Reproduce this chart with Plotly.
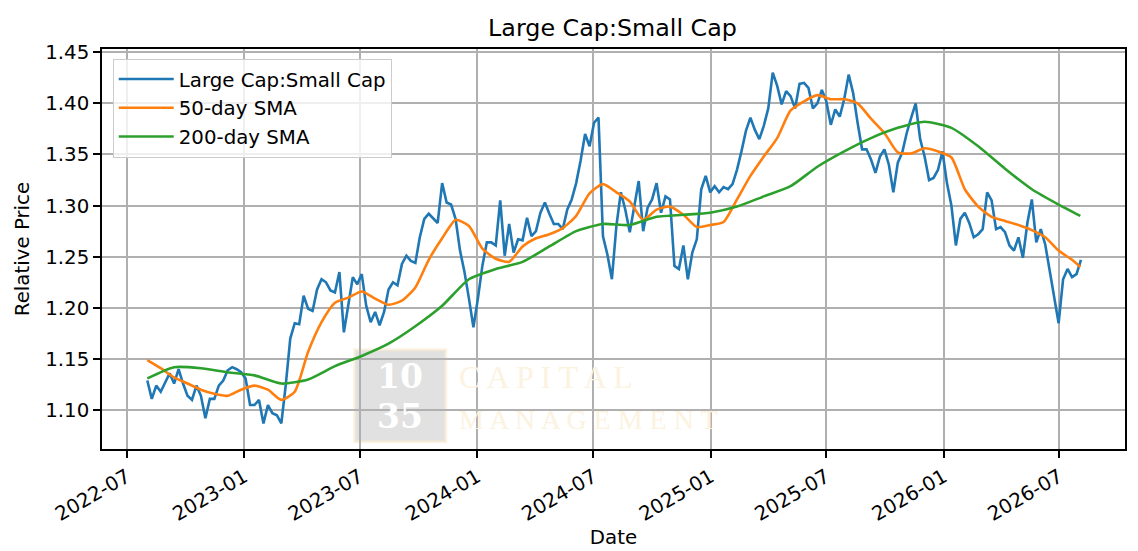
import pandas as pd
import plotly.graph_objects as go

# ---------------- data ----------------
ratio_start = "2022-08-02"   # weekly observations
ratio = [
    1.129, 1.111, 1.124, 1.118, 1.127, 1.136, 1.126, 1.140, 1.126, 1.114,
    1.110, 1.124, 1.114, 1.092, 1.111, 1.111, 1.124, 1.129, 1.139, 1.142,
    1.140, 1.137, 1.131, 1.105, 1.105, 1.110, 1.087, 1.105, 1.097, 1.095,
    1.087, 1.125, 1.170, 1.185, 1.184, 1.212, 1.199, 1.197, 1.218, 1.228,
    1.225, 1.217, 1.215, 1.235, 1.176, 1.202, 1.230, 1.223, 1.233, 1.202,
    1.186, 1.196, 1.183, 1.196, 1.218, 1.225, 1.222, 1.243, 1.251, 1.246,
    1.244, 1.269, 1.287, 1.292, 1.287, 1.283, 1.322, 1.303, 1.301, 1.287,
    1.256, 1.235, 1.209, 1.181, 1.209, 1.241, 1.264, 1.264, 1.261, 1.305,
    1.251, 1.282, 1.254, 1.267, 1.266, 1.288, 1.270, 1.275, 1.293, 1.303,
    1.292, 1.282, 1.282, 1.277, 1.296, 1.306, 1.322, 1.344, 1.370, 1.358,
    1.381, 1.386, 1.270, 1.252, 1.228, 1.280, 1.313, 1.296, 1.274, 1.300,
    1.324, 1.275, 1.298, 1.306, 1.322, 1.293, 1.309, 1.306, 1.241, 1.238,
    1.261, 1.228, 1.254, 1.267, 1.316, 1.329, 1.313, 1.319, 1.313, 1.318,
    1.316, 1.321, 1.335, 1.353, 1.373, 1.386, 1.374, 1.365, 1.378, 1.395,
    1.430, 1.417, 1.399, 1.412, 1.407, 1.395, 1.419, 1.420, 1.415, 1.395,
    1.400, 1.413, 1.402, 1.379, 1.394, 1.387, 1.404, 1.428, 1.410, 1.381,
    1.355, 1.355, 1.345, 1.332, 1.348, 1.355, 1.340, 1.313, 1.342, 1.352,
    1.371, 1.386, 1.400, 1.365, 1.348, 1.325, 1.327, 1.335, 1.353, 1.322,
    1.300, 1.261, 1.287, 1.293, 1.283, 1.269, 1.272, 1.277, 1.313, 1.305,
    1.277, 1.279, 1.274, 1.261, 1.256, 1.269, 1.249, 1.283, 1.306, 1.264,
    1.277, 1.262, 1.235, 1.212, 1.185, 1.228, 1.238, 1.230, 1.233, 1.247,
]

sma50_start = "2022-08-02"   # every 3 weeks
sma50 = [
    1.149, 1.141, 1.132, 1.126, 1.120, 1.116, 1.114, 1.120, 1.124, 1.120,
    1.110, 1.118, 1.157, 1.186, 1.205, 1.210, 1.216, 1.209, 1.203, 1.207,
    1.220, 1.247, 1.268, 1.286, 1.280, 1.258, 1.248, 1.245, 1.260, 1.268,
    1.272, 1.278, 1.290, 1.312, 1.321, 1.313, 1.304, 1.286, 1.296, 1.299,
    1.291, 1.279, 1.281, 1.284, 1.306, 1.329, 1.348, 1.366, 1.393, 1.402,
    1.408, 1.404, 1.404, 1.400, 1.385, 1.371, 1.352, 1.351, 1.356, 1.353,
    1.347, 1.316, 1.299, 1.289, 1.285, 1.281, 1.276, 1.269, 1.256, 1.247,
]
sma50_last = 1.240

sma200_start = "2022-08-02"  # every 6 weeks
sma200 = [
    1.131, 1.142, 1.141, 1.137, 1.134, 1.126, 1.130, 1.143, 1.153, 1.165,
    1.182, 1.202, 1.228, 1.238, 1.245, 1.260, 1.275, 1.282, 1.281, 1.289,
    1.291, 1.293, 1.299, 1.309, 1.319, 1.338, 1.353, 1.366, 1.376, 1.382,
    1.376, 1.358, 1.336, 1.316, 1.301,
]
sma200_last = 1.290

last_date = "2026-08-03"

x_tick_vals = ["2022-07-01", "2023-01-01", "2023-07-01", "2024-01-01", "2024-07-01",
               "2025-01-01", "2025-07-01", "2026-01-01", "2026-07-01"]
x_tick_text = ["2022-07", "2023-01", "2023-07", "2024-01", "2024-07",
               "2025-01", "2025-07", "2026-01", "2026-07"]
y_tick_vals = [1.10, 1.15, 1.20, 1.25, 1.30, 1.35, 1.40, 1.45]

# ---------------- build x values ----------------
ratio_dates = pd.date_range(ratio_start, periods=len(ratio), freq="7D")
sma50_dates = list(pd.date_range(sma50_start, periods=len(sma50), freq="21D")) + [pd.Timestamp(last_date)]
sma200_dates = list(pd.date_range(sma200_start, periods=len(sma200), freq="42D")) + [pd.Timestamp(last_date)]

FONT = "DejaVu Sans, Verdana, sans-serif"
SERIF = "DejaVu Serif, Liberation Serif, serif"

fig = go.Figure()
fig.add_trace(go.Scatter(x=ratio_dates, y=ratio, mode="lines", name="Large Cap:Small Cap",
                         line=dict(color="#1f77b4", width=2.6)))
fig.add_trace(go.Scatter(x=sma50_dates, y=sma50 + [sma50_last], mode="lines", name="50-day SMA",
                         line=dict(color="#ff7f0e", width=2.6, shape="spline", smoothing=0.6)))
fig.add_trace(go.Scatter(x=sma200_dates, y=sma200 + [sma200_last], mode="lines", name="200-day SMA",
                         line=dict(color="#2ca02c", width=2.6, shape="spline", smoothing=0.6)))

# watermark
fig.add_shape(type="rect", xref="paper", yref="paper", x0=0.247, x1=0.336, y0=0.018, y1=0.248,
              fillcolor="rgba(215,215,215,0.75)", line=dict(color="rgba(250,235,210,0.6)", width=3),
              layer="below")
for txt, yy in (("<b>10</b>", 0.181), ("<b>35</b>", 0.081)):
    fig.add_annotation(text=txt, xref="paper", yref="paper", x=0.2915, y=yy,
                       xanchor="center", yanchor="middle", showarrow=False,
                       font=dict(family=SERIF, size=33, color="white"))
fig.add_annotation(text="C A P I T A L", xref="paper", yref="paper", x=0.347, y=0.181,
                   xanchor="left", yanchor="middle", showarrow=False,
                   font=dict(family="Liberation Serif, serif", size=32, color="#fcf2e0"))
fig.add_annotation(text="M A N A G E M E N T", xref="paper", yref="paper", x=0.347, y=0.074,
                   xanchor="left", yanchor="middle", showarrow=False,
                   font=dict(family="Liberation Serif, serif", size=28, color="#fcf2e0"))

axis_common = dict(showline=True, linecolor="black", linewidth=1.5, mirror=True,
                   ticks="outside", ticklen=7, tickwidth=1.5, tickcolor="black",
                   showgrid=True, gridcolor="#b0b0b0", gridwidth=1.5, zeroline=False,
                   automargin=False,
                   tickfont=dict(family=FONT, size=19.8, color="black"))

# the page places the figure 8 px in from the top-left corner; margins compensate
fig.update_layout(
    width=1138, height=551,
    margin=dict(l=94, r=21, t=41, b=110, autoexpand=False),
    paper_bgcolor="white", plot_bgcolor="white",
    font=dict(family=FONT, size=19.8, color="black"),
    title=dict(text="Large Cap:Small Cap", x=0.5312, xanchor="center", y=0.9637, yanchor="middle",
               yref="container", font=dict(family=FONT, size=23.8, color="black")),
    xaxis=dict(range=["2022-05-23", "2026-10-12"], tickvals=x_tick_vals, ticktext=x_tick_text,
               tickangle=-30, title=dict(text="Date", standoff=5, font=dict(family=FONT, size=19.8)),
               **axis_common),
    yaxis=dict(range=[1.0620, 1.4531], tickvals=y_tick_vals, tickformat=".2f",
               title=dict(text="Relative Price", standoff=10, font=dict(family=FONT, size=19.8)),
               **axis_common),
    legend=dict(x=0.0105, y=0.976, xanchor="left", yanchor="top",
                bgcolor="rgba(255,255,255,0.8)", bordercolor="#cccccc", borderwidth=1,
                font=dict(family=FONT, size=19.8, color="black"), itemwidth=55),
    showlegend=True,
)

fig.write_html("out.html")
